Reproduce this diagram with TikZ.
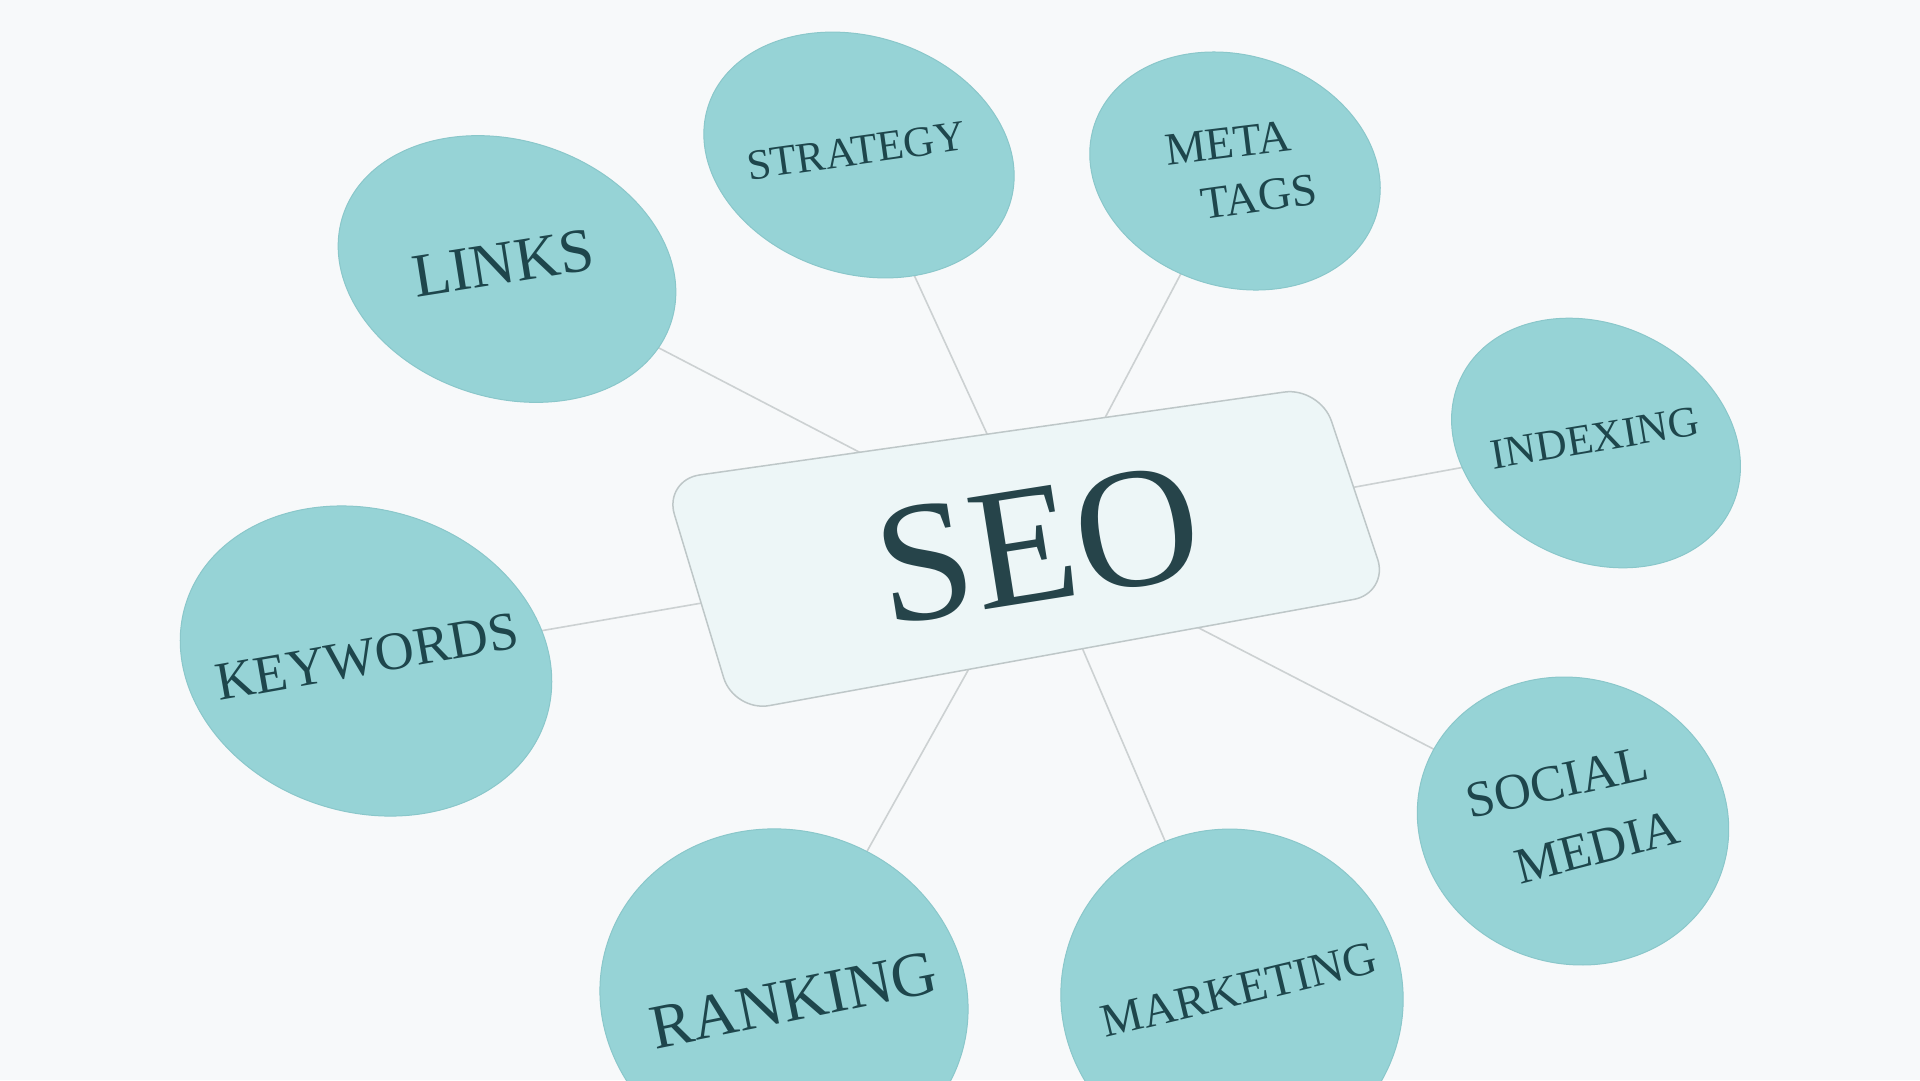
\documentclass[tikz,border=0pt]{standalone}
\usepackage{fontspec}
\setmainfont{Liberation Serif}
\usetikzlibrary{shapes.geometric}
\definecolor{bgc}{RGB}{247,249,250}
\definecolor{bub}{RGB}{150,211,214}
\definecolor{bubrim}{RGB}{138,199,202}
\definecolor{txt}{RGB}{30,70,76}
\definecolor{seotxt}{RGB}{38,68,74}
\definecolor{boxfill}{RGB}{237,246,247}
\definecolor{boxline}{RGB}{190,199,200}
\definecolor{wirec}{RGB}{204,209,210}
\newcommand\lblsize[1]{\fontsize{#1}{#1}\selectfont}
\pgfdeclarelayer{bglayer}
\pgfdeclarelayer{wirelayer}
\pgfsetlayers{bglayer,wirelayer,main}
\begin{document}
\begin{tikzpicture}[x=1pt,y=-1pt,
  bubble/.style={ellipse, fill=bub, draw=bubrim, line width=1pt, inner sep=0pt, rotate=-18},
  lbl/.style={text=txt, inner sep=0pt},
  spoke/.style={draw=wirec, line width=1.6pt}]
\useasboundingbox (0,0) rectangle (1920,1080);
\begin{pgfonlayer}{bglayer}
  \fill[bgc] (0,0) rectangle (1920,1080);
\end{pgfonlayer}

% bubbles
\node[bubble, minimum width=345, minimum height=257] (links) at (507,269) {};
\node[bubble, minimum width=317, minimum height=237] (strategy) at (859,155) {};
\node[bubble, minimum width=296, minimum height=231] (meta) at (1235,171) {};
\node[bubble, minimum width=300, minimum height=236, rotate=-8] (indexing) at (1596,443) {};
\node[bubble, minimum width=378, minimum height=302] (keywords) at (366,661) {};
\node[bubble, minimum width=314, minimum height=285] (social) at (1573,821) {};
\node[bubble, minimum width=371, minimum height=339] (ranking) at (784,1000) {};
\node[bubble, minimum width=343, minimum height=335] (marketing) at (1232,997) {};

% central box
\coordinate (c1) at (664,480);
\coordinate (c2) at (1320,387);
\coordinate (c3) at (1389,593);
\coordinate (c4) at (734,712);
\draw[fill=boxfill, draw=boxline, line width=1.5pt, rounded corners=36]
  (c1) -- (c2) -- (c3) -- (c4) -- cycle;
\node[text=seotxt, inner sep=0pt, font=\lblsize{172}, rotate=9] (seo) at (1038,545) {SEO};

% labels
\node[lbl, font=\lblsize{62}, rotate=9] (linkst) at (503,263) {LINKS};
\node[lbl, font=\lblsize{43}, rotate=8] (strategyt) at (856,151) {STRATEGY};
\node[lbl, font=\lblsize{46}, rotate=7] (metat) at (1228,143) {META};
\node[lbl, font=\lblsize{46}, rotate=8] (tagst) at (1259,197) {TAGS};
\node[lbl, font=\lblsize{43}, rotate=9.5] (indexingt) at (1595,438) {INDEXING};
\node[lbl, font=\lblsize{54}, rotate=10] (keywordst) at (367,657) {KEYWORDS};
\node[lbl, font=\lblsize{51}, rotate=12.5] (socialt) at (1557,782) {SOCIAL};
\node[lbl, font=\lblsize{51}, rotate=14.5] (mediat) at (1597,847) {MEDIA};
\node[lbl, font=\lblsize{63}, rotate=11.5] (rankingt) at (794,1000) {RANKING};
\node[lbl, font=\lblsize{47}, rotate=13.5] (marketingt) at (1239,990) {MARKETING};

% connectors
\begin{pgfonlayer}{wirelayer}
  \foreach \n in {links,strategy,meta,indexing,keywords,social,ranking,marketing}
    \draw[spoke] (\n.center) -- (seo.center);
\end{pgfonlayer}
\end{tikzpicture}
\end{document}
